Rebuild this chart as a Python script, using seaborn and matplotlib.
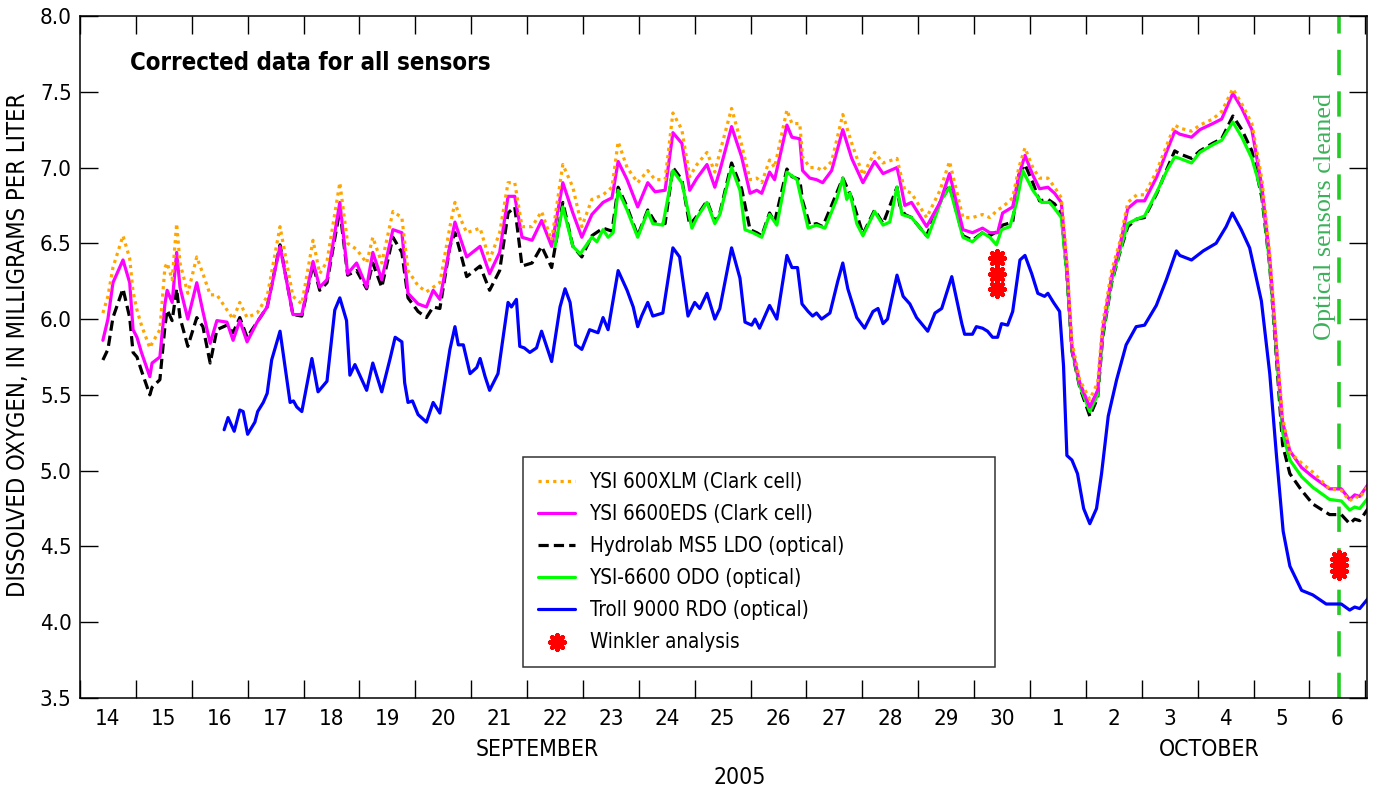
import matplotlib
matplotlib.use('Agg')
import matplotlib.pyplot as plt
import seaborn as sns
import pandas as pd

# days since 2005-09-14 00:00
t_main = [0.41, 0.50, 0.59, 0.77, 0.89, 0.95, 1.02, 1.10, 1.25, 1.29, 1.43, 1.52, 1.56, 1.65, 1.73, 1.79,
          1.93, 2.09, 2.20, 2.33, 2.45, 2.63, 2.74, 2.86, 2.99, 3.17, 3.35, 3.58, 3.81, 3.97, 4.17, 4.29,
          4.42, 4.65, 4.79, 4.95, 5.13, 5.24, 5.40, 5.60, 5.76, 5.87, 6.05, 6.20, 6.32, 6.44, 6.62, 6.71,
          6.80, 6.92, 7.16, 7.33, 7.51, 7.66, 7.78, 7.91, 8.09, 8.26, 8.44, 8.64, 8.82, 8.98, 9.16, 9.36,
          9.52, 9.63, 9.79, 9.98, 10.16, 10.29, 10.47, 10.61, 10.77, 10.91, 11.04, 11.22, 11.36, 11.45,
          11.66, 11.84, 11.99, 12.11, 12.20, 12.34, 12.43, 12.65, 12.74, 12.88, 12.93, 13.06, 13.18, 13.29,
          13.45, 13.65, 13.81, 14.01, 14.22, 14.37, 14.62, 14.67, 14.76, 14.88, 15.15, 15.39, 15.56, 15.80,
          15.97, 16.15, 16.28, 16.42, 16.51, 16.69, 16.80, 16.91, 17.05, 17.17, 17.32, 17.44, 17.56, 17.66,
          17.75, 17.89, 18.07, 18.21, 18.30, 18.46, 18.60, 18.75, 18.91, 19.05, 19.27, 19.45, 19.59, 19.68,
          19.89, 20.04, 20.27, 20.43, 20.63, 20.79, 20.97, 21.15, 21.29, 21.41, 21.52, 21.65, 21.86, 22.06,
          22.36, 22.57, 22.72, 22.81, 22.90, 23.05]

ysi_600xlm = [6.04, 6.15, 6.34, 6.55, 6.40, 6.18, 6.06, 5.96, 5.81, 5.84, 5.93, 6.34, 6.37, 6.26, 6.63, 6.37,
              6.17, 6.41, 6.30, 6.16, 6.16, 6.06, 6.00, 6.11, 6.01, 6.04, 6.15, 6.61, 6.15, 6.10, 6.52, 6.30,
              6.38, 6.90, 6.50, 6.46, 6.37, 6.54, 6.37, 6.71, 6.67, 6.32, 6.22, 6.18, 6.21, 6.24, 6.61, 6.77,
              6.67, 6.57, 6.60, 6.39, 6.57, 6.90, 6.90, 6.61, 6.61, 6.71, 6.52, 7.02, 6.87, 6.61, 6.79, 6.82,
              6.87, 7.17, 7.00, 6.90, 6.98, 6.92, 6.92, 7.36, 7.25, 6.94, 7.02, 7.10, 6.97, 7.10,
              7.39, 7.15, 6.92, 6.93, 6.90, 7.05, 7.00, 7.38, 7.29, 7.29, 7.07, 7.00, 7.00, 6.98,
              7.04, 7.35, 7.16, 6.95, 7.10, 7.03, 7.06, 6.98, 6.85, 6.83, 6.67, 6.85, 7.04, 6.67,
              6.67, 6.69, 6.67, 6.72, 6.74, 6.80, 7.00, 7.13, 7.00, 6.93, 6.93, 6.87, 6.80, 6.38,
              5.85, 5.60, 5.47, 5.58, 5.97, 6.32, 6.50, 6.77, 6.82, 6.82, 6.98, 7.15, 7.28, 7.26,
              7.24, 7.28, 7.32, 7.37, 7.52, 7.42, 7.29, 6.92, 6.43, 5.84, 5.35, 5.12, 5.05, 4.99,
              4.88, 4.87, 4.80, 4.83, 4.82, 4.90]

ysi_6600eds = [5.86, 6.00, 6.24, 6.39, 6.24, 5.93, 5.88, 5.78, 5.62, 5.71, 5.75, 6.10, 6.19, 6.11, 6.44, 6.21,
               6.00, 6.24, 6.05, 5.84, 5.99, 5.98, 5.86, 5.99, 5.85, 5.98, 6.08, 6.48, 6.03, 6.03, 6.38, 6.21,
               6.26, 6.77, 6.30, 6.37, 6.21, 6.44, 6.26, 6.59, 6.57, 6.17, 6.10, 6.08, 6.19, 6.13, 6.48, 6.64,
               6.54, 6.41, 6.48, 6.30, 6.44, 6.81, 6.81, 6.54, 6.52, 6.65, 6.48, 6.90, 6.70, 6.54, 6.69, 6.77,
               6.80, 7.04, 6.92, 6.74, 6.90, 6.84, 6.85, 7.23, 7.16, 6.85, 6.93, 7.02, 6.87, 6.98,
               7.27, 7.07, 6.83, 6.85, 6.83, 6.97, 6.92, 7.28, 7.20, 7.19, 6.98, 6.93, 6.92, 6.90,
               6.98, 7.25, 7.06, 6.90, 7.04, 6.96, 7.00, 6.92, 6.75, 6.77, 6.61, 6.77, 6.96, 6.59,
               6.57, 6.60, 6.57, 6.57, 6.70, 6.74, 6.95, 7.08, 6.95, 6.86, 6.87, 6.83, 6.77, 6.35,
               5.81, 5.58, 5.42, 5.53, 5.93, 6.28, 6.47, 6.73, 6.78, 6.78, 6.94, 7.11, 7.24, 7.22,
               7.20, 7.25, 7.29, 7.32, 7.49, 7.39, 7.25, 6.87, 6.40, 5.81, 5.32, 5.13, 5.02, 4.96,
               4.88, 4.88, 4.81, 4.84, 4.83, 4.91]

hydrolab_ms5 = [5.73, 5.80, 6.01, 6.20, 6.01, 5.78, 5.75, 5.66, 5.50, 5.55, 5.60, 5.95, 6.06, 5.99, 6.20, 6.01,
                5.82, 6.01, 5.95, 5.71, 5.93, 5.96, 5.91, 6.01, 5.88, 5.98, 6.08, 6.49, 6.03, 6.02, 6.36, 6.19,
                6.24, 6.72, 6.29, 6.32, 6.20, 6.37, 6.21, 6.54, 6.44, 6.14, 6.05, 6.01, 6.08, 6.07, 6.48, 6.57,
                6.45, 6.28, 6.35, 6.19, 6.32, 6.70, 6.74, 6.35, 6.37, 6.48, 6.34, 6.77, 6.48, 6.41, 6.55, 6.60,
                6.58, 6.87, 6.74, 6.55, 6.72, 6.64, 6.63, 7.00, 6.92, 6.62, 6.68, 6.78, 6.64, 6.70,
                7.03, 6.86, 6.59, 6.57, 6.55, 6.70, 6.64, 6.99, 6.94, 6.92, 6.78, 6.62, 6.63, 6.61,
                6.75, 6.93, 6.80, 6.56, 6.72, 6.63, 6.87, 6.75, 6.69, 6.67, 6.55, 6.77, 6.88, 6.55,
                6.52, 6.57, 6.55, 6.58, 6.62, 6.64, 6.95, 7.02, 6.90, 6.78, 6.79, 6.76, 6.70, 6.29,
                5.79, 5.55, 5.36, 5.48, 5.88, 6.24, 6.43, 6.61, 6.66, 6.67, 6.83, 6.99, 7.11, 7.09,
                7.06, 7.11, 7.16, 7.19, 7.34, 7.25, 7.11, 6.80, 6.35, 5.74, 5.17, 4.98, 4.87, 4.78,
                4.71, 4.71, 4.65, 4.68, 4.67, 4.75]

t_odo = [8.50, 8.64, 8.82, 8.95, 9.16, 9.25, 9.36, 9.45, 9.54, 9.63, 9.79, 9.98, 10.16, 10.25, 10.43, 10.61,
         10.77, 10.95, 11.04, 11.22, 11.36, 11.45, 11.66, 11.81, 11.90, 12.04, 12.20, 12.34, 12.47, 12.65,
         12.83, 12.92, 13.03, 13.18, 13.33, 13.54, 13.65, 13.72, 13.78, 13.90, 14.01, 14.22, 14.37, 14.49,
         14.62, 14.71, 14.88, 15.17, 15.42, 15.56, 15.80, 15.97, 16.15, 16.28, 16.40, 16.49, 16.64, 16.76,
         16.87, 17.05, 17.21, 17.35, 17.44, 17.56, 17.66, 17.75, 17.89, 18.07, 18.21, 18.30, 18.46, 18.60,
         18.75, 18.91, 19.05, 19.27, 19.45, 19.59, 19.68, 19.89, 20.04, 20.27, 20.43, 20.63, 20.79, 20.97,
         21.15, 21.29, 21.41, 21.52, 21.65, 21.86, 22.06, 22.36, 22.57, 22.72, 22.81, 22.90, 23.05]
ysi_6600_odo = [6.48, 6.74, 6.48, 6.43, 6.54, 6.51, 6.59, 6.54, 6.57, 6.85, 6.72, 6.54, 6.71, 6.63, 6.62, 6.98,
                6.90, 6.60, 6.67, 6.77, 6.63, 6.69, 7.00, 6.85, 6.59, 6.57, 6.54, 6.69, 6.62, 6.97,
                6.92, 6.77, 6.60, 6.62, 6.60, 6.79, 6.93, 6.79, 6.83, 6.63, 6.55, 6.71, 6.62, 6.64,
                6.87, 6.69, 6.67, 6.54, 6.79, 6.87, 6.54, 6.51, 6.57, 6.54, 6.49, 6.59, 6.61, 6.77,
                6.98, 6.85, 6.77, 6.77, 6.73, 6.67, 6.30, 5.80, 5.56, 5.39, 5.50, 5.90, 6.25, 6.44,
                6.63, 6.66, 6.68, 6.84, 6.98, 7.07, 7.06, 7.03, 7.10, 7.15, 7.18, 7.30, 7.20, 7.06,
                6.83, 6.36, 5.78, 5.25, 5.07, 4.96, 4.89, 4.81, 4.80, 4.74, 4.76, 4.75, 4.82]

t_rdo = [2.58, 2.65, 2.76, 2.86, 2.92, 3.00, 3.13, 3.18, 3.28, 3.35, 3.43, 3.58, 3.76, 3.82, 3.88, 3.97,
         4.15, 4.26, 4.42, 4.56, 4.65, 4.77, 4.83, 4.92, 5.13, 5.24, 5.40, 5.55, 5.64, 5.76, 5.81, 5.87,
         5.95, 6.05, 6.20, 6.32, 6.44, 6.62, 6.71, 6.77, 6.86, 6.98, 7.10, 7.16, 7.25, 7.33, 7.48, 7.66,
         7.72, 7.81, 7.87, 7.95, 8.05, 8.17, 8.26, 8.44, 8.59, 8.68, 8.77, 8.87, 8.98, 9.12, 9.27, 9.36,
         9.45, 9.63, 9.79, 9.90, 9.98, 10.05, 10.16, 10.25, 10.43, 10.61, 10.73, 10.88, 11.00, 11.09,
         11.22, 11.36, 11.45, 11.66, 11.81, 11.90, 12.02, 12.08, 12.16, 12.34, 12.47, 12.65, 12.74, 12.84,
         12.92, 13.03, 13.11, 13.18, 13.27, 13.42, 13.56, 13.65, 13.74, 13.90, 14.04, 14.19, 14.28, 14.37,
         14.45, 14.62, 14.73, 14.85, 14.97, 15.17, 15.30, 15.42, 15.60, 15.78, 15.83, 15.97, 16.04, 16.15,
         16.24, 16.33, 16.42, 16.49, 16.60, 16.69, 16.82, 16.91, 17.03, 17.14, 17.26, 17.32, 17.42, 17.53,
         17.60, 17.66, 17.75, 17.85, 17.96, 18.07, 18.19, 18.28, 18.40, 18.55, 18.72, 18.90, 19.05, 19.26,
         19.44, 19.62, 19.68, 19.89, 20.10, 20.33, 20.51, 20.62, 20.78, 20.93, 21.14, 21.29, 21.41, 21.53,
         21.65, 21.86, 22.06, 22.30, 22.57, 22.72, 22.81, 22.90, 23.08]
troll_9000 = [5.27, 5.35, 5.26, 5.40, 5.39, 5.24, 5.32, 5.39, 5.45, 5.51, 5.73, 5.92, 5.45, 5.46, 5.42, 5.39,
              5.74, 5.52, 5.59, 6.06, 6.14, 5.99, 5.63, 5.70, 5.53, 5.71, 5.52, 5.74, 5.88, 5.85, 5.58, 5.45,
              5.46, 5.37, 5.32, 5.45, 5.38, 5.80, 5.95, 5.83, 5.83, 5.64, 5.68, 5.74, 5.62, 5.53, 5.64, 6.11,
              6.08, 6.13, 5.82, 5.81, 5.78, 5.81, 5.92, 5.72, 6.08, 6.20, 6.11, 5.83, 5.80, 5.93, 5.91, 6.01,
              5.93, 6.32, 6.19, 6.08, 5.95, 6.02, 6.11, 6.02, 6.04, 6.47, 6.41, 6.02, 6.11, 6.07,
              6.17, 6.00, 6.07, 6.47, 6.27, 5.98, 5.96, 6.00, 5.94, 6.09, 6.00, 6.42, 6.34, 6.34,
              6.10, 6.05, 6.02, 6.04, 6.00, 6.04, 6.25, 6.37, 6.20, 6.01, 5.94, 6.05, 6.07, 5.97,
              6.00, 6.29, 6.15, 6.10, 6.01, 5.92, 6.04, 6.07, 6.28, 5.97, 5.90, 5.90, 5.95, 5.94,
              5.92, 5.88, 5.88, 5.97, 5.96, 6.05, 6.39, 6.42, 6.30, 6.17, 6.15, 6.17, 6.11, 6.05,
              5.69, 5.10, 5.07, 4.98, 4.75, 4.65, 4.75, 4.98, 5.36, 5.60, 5.83, 5.95, 5.96, 6.09,
              6.26, 6.45, 6.42, 6.39, 6.45, 6.50, 6.61, 6.70, 6.59, 6.47, 6.12, 5.64, 5.10, 4.60,
              4.37, 4.21, 4.18, 4.12, 4.12, 4.08, 4.10, 4.09, 4.17]

t_winkler = [16.41, 16.41, 16.41, 22.53, 22.53, 22.53]
winkler = [6.40, 6.30, 6.20, 4.34, 4.38, 4.42]

t_cleaned = 22.53
day_labels = [str(d) for d in range(14, 31)] + [str(d) for d in range(1, 7)]

sns.set_theme(style='white')
plt.rcParams['font.family'] = ['DejaVu Sans']
plt.rcParams['font.stretch'] = 'condensed'
plt.rcParams['text.color'] = 'black'
plt.rcParams['xtick.color'] = 'black'
plt.rcParams['ytick.color'] = 'black'

fig = plt.figure(figsize=(13.74, 7.91), dpi=100)
ax = fig.add_axes([0.0582, 0.1176, 0.9367, 0.8622])

main = pd.DataFrame({'t': t_main, 'xlm': ysi_600xlm, 'eds': ysi_6600eds, 'ms5': hydrolab_ms5})
odo = pd.DataFrame({'t': t_odo, 'v': ysi_6600_odo})
rdo = pd.DataFrame({'t': t_rdo, 'v': troll_9000})
wk = pd.DataFrame({'t': t_winkler, 'v': winkler})

lw = 2.3
sns.lineplot(data=rdo, x='t', y='v', color='#0000ff', lw=lw, estimator=None, ax=ax,
             label='Troll 9000 RDO (optical)')
sns.lineplot(data=main, x='t', y='ms5', color='black', lw=lw, estimator=None, ax=ax,
             linestyle=(0, (3.2, 1.6)), label='Hydrolab MS5 LDO (optical)')
sns.lineplot(data=odo, x='t', y='v', color='#00ff00', lw=lw, estimator=None, ax=ax,
             label='YSI-6600 ODO (optical)')
sns.lineplot(data=main, x='t', y='eds', color='#ff00ff', lw=lw, estimator=None, ax=ax,
             label='YSI 6600EDS (Clark cell)')
sns.lineplot(data=main, x='t', y='xlm', color='#ffa500', lw=lw, estimator=None, ax=ax,
             linestyle=(0, (1.0, 1.3)), label='YSI 600XLM (Clark cell)')
ax.axvline(t_cleaned, color='#22cc22', lw=2.6, linestyle=(0, (7, 4.5)), zorder=1)
sns.scatterplot(data=wk, x='t', y='v', color='red', marker=(8, 2, 0), s=110, linewidth=3.2,
                ax=ax, label='Winkler analysis', zorder=5)

ax.set_xlim(0, 23.03)
ax.set_ylim(3.5, 8.0)
ax.set_xlabel('')
ax.set_ylabel('')

ax.set_xticks(range(0, 24))
ax.set_xticklabels([])
ax.set_xticks([d + 0.5 for d in range(len(day_labels))], minor=True)
ax.set_xticklabels(day_labels, minor=True)
yt = [3.5 + 0.5 * i for i in range(10)]
ax.set_yticks(yt)
ax.set_yticklabels([f'{v:.1f}' for v in yt])
ax.tick_params(axis='x', which='major', direction='in', length=13, width=1.0, top=True, bottom=True)
ax.tick_params(axis='x', which='minor', length=0, labelsize=16, pad=8)
ax.tick_params(axis='y', direction='in', length=13, width=1.0, left=True, right=True,
               labelsize=16, pad=6)
for s in ax.spines.values():
    s.set_color('black')
    s.set_linewidth(1.1)

ax.text(0.039, 0.931, 'Corrected data for all sensors', transform=ax.transAxes,
        fontsize=17.2, fontweight='bold', va='center', ha='left')
ax.text(22.27, 6.68, 'Optical sensors cleaned', rotation=90, color='#3cb05a',
        family='Liberation Serif', fontstretch='normal', fontsize=18.8, ha='center', va='center')

xt = ax.get_xaxis_transform()
ax.text(8.18, -0.076, 'SEPTEMBER', transform=xt, ha='center', va='center', fontsize=16.5)
ax.text(20.2, -0.076, 'OCTOBER', transform=xt, ha='center', va='center', fontsize=16.5)
ax.text(11.8, -0.117, '2005', transform=xt, ha='center', va='center', fontsize=16.5)
fig.text(0.013, 0.564, 'DISSOLVED OXYGEN, IN MILLIGRAMS PER LITER', rotation=90,
         ha='center', va='center', fontsize=17)

handles, labels = ax.get_legend_handles_labels()
order = ['YSI 600XLM (Clark cell)', 'YSI 6600EDS (Clark cell)', 'Hydrolab MS5 LDO (optical)',
         'YSI-6600 ODO (optical)', 'Troll 9000 RDO (optical)', 'Winkler analysis']
hmap = dict(zip(labels, handles))
leg = ax.legend([hmap[k] for k in order], order, loc='lower left',
                bbox_to_anchor=(0.344, 0.045, 0.367, 0.30), mode='expand', borderaxespad=0,
                fontsize=14.8, frameon=True, fancybox=False, handlelength=1.8,
                handletextpad=0.7, labelspacing=0.58, borderpad=0.75)
leg.get_frame().set_edgecolor('black')
leg.get_frame().set_linewidth(1.1)

fig.savefig('out.png', dpi=100)
